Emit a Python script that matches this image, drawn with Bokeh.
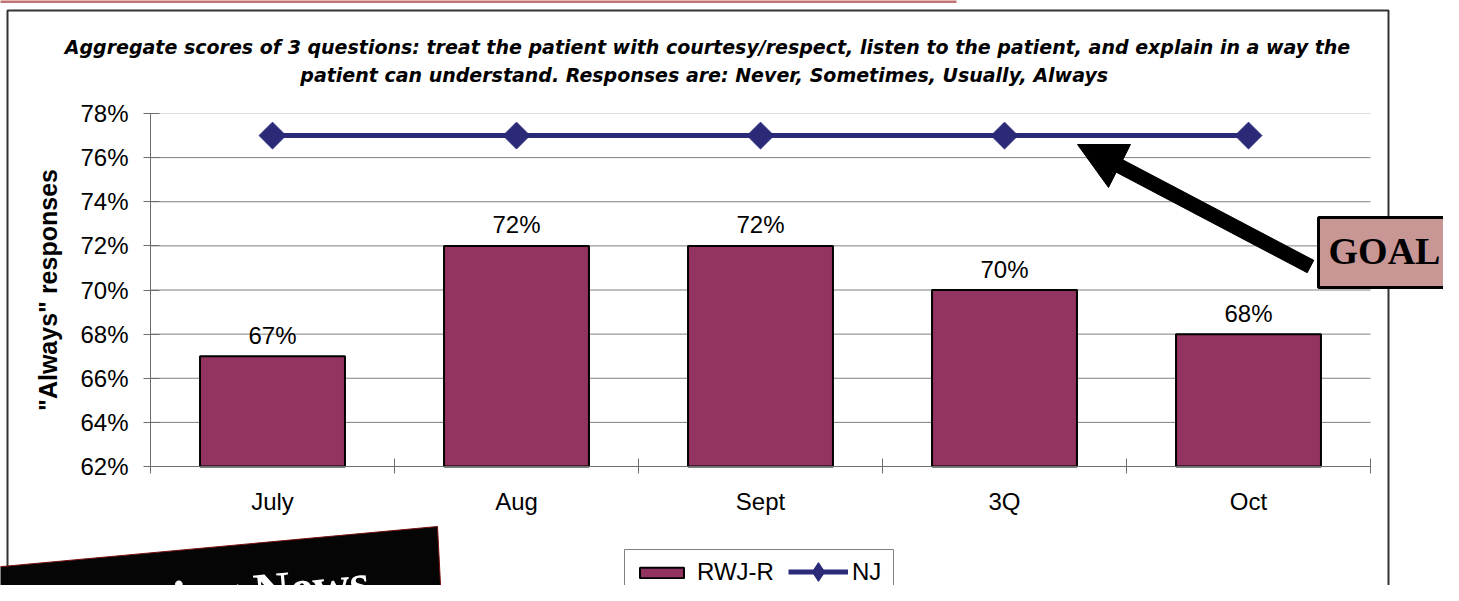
import math
from bokeh.plotting import figure
from bokeh.models import (Range1d, FixedTicker, PrintfTickFormatter, Legend, LegendItem,
                          BoxAnnotation, PolyAnnotation, Label, ColumnDataSource,
                          LinearAxis)
from bokeh.core.properties import value
from bokeh.embed import file_html
from bokeh.resources import INLINE

# ---------------- data ----------------
categories = ["July", "Aug", "Sept", "3Q", "Oct"]
rwj_r = [67, 72, 72, 70, 68]
nj = [77, 77, 77, 77, 77]
y_ticks = [62, 64, 66, 68, 70, 72, 74, 76, 78]
title_line1 = ("Aggregate scores of 3 questions: treat the patient with courtesy/respect, "
               "listen to the patient, and explain in a way the")
title_line2 = "patient can understand.  Responses are: Never, Sometimes, Usually, Always"
y_label = '"Always" responses'
goal_text = "GOAL"
banner_text = "Marketing News"

# ---------------- layout (canvas pixels) ----------------
W, H = 1443, 585
PL, PR, PT, PB = 150, 1370, 113, 466      # plot area of the chart
Y0, Y1 = y_ticks[0], y_ticks[-1]
n = len(categories)
XS = (PR - PL) / n                         # px per category
YS = (PB - PT) / (Y1 - Y0)                 # px per percent


def dx(px):  # canvas pixel x -> data x
    return (px - PL) / XS


def dy(py):  # canvas pixel y -> data y
    return Y0 + (PB - py) / YS


centers = [i + 0.5 for i in range(n)]
label_lift = 21 / YS
src = ColumnDataSource(dict(x=centers, cat=categories, rwj=rwj_r, nj=nj,
                            ly=[v + label_lift for v in rwj_r],
                            lbl=[f"{v}%" for v in rwj_r]))
grid_src = ColumnDataSource(dict(y=y_ticks[1:-1]))
top_grid_src = ColumnDataSource(dict(y=y_ticks[-1:]))

p = figure(width=W, height=H, x_range=Range1d(dx(0), dx(W)), y_range=Range1d(dy(H), dy(0)),
           output_backend="svg", toolbar_location=None, tools="",
           x_axis_location=None, y_axis_location=None,
           min_border=0, min_border_left=0, min_border_right=0, min_border_top=0,
           min_border_bottom=0, background_fill_color="white", border_fill_color="white",
           outline_line_color=None)
p.grid.visible = False

AX = "#6e6e6e"
FONT = "Liberation Sans"
NAVY = "#2b2a78"

# outer chart frame and the red rule above it
p.add_layout(BoxAnnotation(left=dx(7), right=dx(1388), top=dy(10), bottom=dy(700),
                           fill_color=None, fill_alpha=0, line_color="#333333",
                           line_alpha=1, line_width=2, level="underlay"))
p.add_layout(BoxAnnotation(left=dx(-5), right=dx(956), top=dy(-2), bottom=dy(2.5),
                           fill_color="#c27474", fill_alpha=1, line_color=None,
                           level="underlay"))

# horizontal gridlines, only across the plot area
p.segment(x0=0, x1=n, y0="y", y1="y", source=grid_src, line_color="#808080",
          line_width=1)
p.segment(x0=0, x1=n, y0="y", y1="y", source=top_grid_src, line_color="#dcdcdc",
          line_width=1)

# y axis
ya = LinearAxis(fixed_location=0, bounds=(Y0, Y1),
                ticker=FixedTicker(ticks=y_ticks, minor_ticks=[]),
                formatter=PrintfTickFormatter(format="%d%%"))
ya.major_label_text_font = FONT
ya.major_label_text_font_size = "24px"
ya.major_label_text_color = "black"
ya.major_label_standoff = 15
ya.major_tick_in = 9
ya.major_tick_out = 7
ya.minor_tick_line_color = None
ya.axis_line_color = AX
ya.major_tick_line_color = AX
ya.axis_label = y_label
ya.axis_label_text_font = FONT
ya.axis_label_text_font_size = "25px"
ya.axis_label_text_font_style = "bold"
ya.axis_label_text_color = "black"
ya.axis_label_standoff = 15
p.add_layout(ya, "left")

# x axis
xa = LinearAxis(fixed_location=Y0, bounds=(0, n),
                ticker=FixedTicker(ticks=centers, minor_ticks=list(range(n + 1))))
xa.major_label_overrides = {c: cat for c, cat in zip(centers, categories)}
xa.major_label_text_font = FONT
xa.major_label_text_font_size = "24px"
xa.major_label_text_color = "black"
xa.major_label_standoff = 14
xa.major_tick_in = 0
xa.major_tick_out = 0
xa.minor_tick_in = 8
xa.minor_tick_out = 7
xa.minor_tick_line_color = AX
xa.axis_line_color = AX
p.add_layout(xa, "below")

# bars
bars = p.vbar(x="x", top="rwj", bottom=Y0, width=0.594, source=src,
              fill_color="#933360", line_color="black", line_width=2)

# data labels
p.text(x="x", y="ly", text="lbl", source=src, text_align="center",
       text_baseline="middle", text_font=value(FONT),
       text_font_size="24px", text_color="black")

# NJ line
line = p.line(x="x", y="nj", source=src, line_color=NAVY, line_width=5)
marks = p.scatter(x="x", y="nj", source=src, marker="square", angle=math.pi / 4,
                  size=19, fill_color=NAVY, line_color=NAVY)
# legend-only diamond key for the NJ series (draws nothing in the plot)
key = p.scatter(x=[float("nan")], y=[float("nan")], marker="diamond",
                fill_color=NAVY, line_color=NAVY)

# legend frame and the two legend entries
p.add_layout(BoxAnnotation(left=dx(624), right=dx(893), top=dy(549), bottom=dy(595),
                           fill_color="white", fill_alpha=1, line_color="#808080",
                           line_alpha=1, line_width=1))
common = dict(orientation="horizontal", padding=0, margin=0, label_text_font=FONT,
              label_text_font_size="24px", label_text_color="black",
              border_line_color=None, background_fill_alpha=0)
leg1 = Legend(items=[LegendItem(label="RWJ-R", renderers=[bars])], location=(634, -1),
              glyph_width=55, glyph_height=13, label_standoff=8, **common)
leg2 = Legend(items=[LegendItem(label="NJ", renderers=[line, key])], location=(788, -10),
              glyph_width=60, glyph_height=47, label_standoff=4, **common)
p.add_layout(leg1, "center")
p.add_layout(leg2, "center")

# title
for txt, py in [(title_line1, 46), (title_line2, 74)]:
    p.add_layout(Label(x=dx(707), y=dy(py), text=txt, text_align="center",
                       text_baseline="middle", text_font="DejaVu Sans",
                       text_font_size="19px", text_font_style="bold italic",
                       text_color="black"))

# GOAL arrow (canvas pixel geometry)
ux, uy = 191 / 216.1, 101 / 216.1
nx_, ny_ = -uy, ux
hw = 7
T = (1077, 144)
A = (1130, 144)
C = (1108, 187)
B = (1119, 165.5)
E = (1310, 266)
pts = [T, A, (B[0] - hw * nx_, B[1] - hw * ny_), (E[0] - hw * nx_, E[1] - hw * ny_),
       (E[0] + hw * nx_, E[1] + hw * ny_), (B[0] + hw * nx_, B[1] + hw * ny_), C]
p.add_layout(PolyAnnotation(xs=[dx(a) for a, b in pts], ys=[dy(b) for a, b in pts],
                            fill_color="black", fill_alpha=1, line_color="black",
                            line_alpha=1, line_width=1))

# GOAL box
p.add_layout(BoxAnnotation(left=dx(1318), right=dx(1460), top=dy(217), bottom=dy(287),
                           fill_color="#c99696", fill_alpha=1, line_color="black",
                           line_alpha=1, line_width=3))
p.add_layout(Label(x=dx(1384), y=dy(250), text=goal_text, text_align="center",
                   text_baseline="middle", text_font="Liberation Serif",
                   text_font_size="38px", text_font_style="bold", text_color="black"))

# black banner at bottom-left
shift = 16
bx = [-20, 437, 446, -20]
by = [584 - shift, 542 - shift, 700, 700]
p.add_layout(PolyAnnotation(xs=[dx(v) for v in bx], ys=[dy(v) for v in by],
                            fill_color="#050505", fill_alpha=1, line_color="#7a1010",
                            line_alpha=1, line_width=1))
p.add_layout(Label(x=dx(9), y=dy(630 - shift), text=banner_text, angle=0.0913,
                   text_align="left", text_baseline="middle",
                   text_font="Liberation Serif", text_font_size="51px",
                   text_font_style="bold", text_color="white"))

open("out.html", "w").write(file_html(p, INLINE))
